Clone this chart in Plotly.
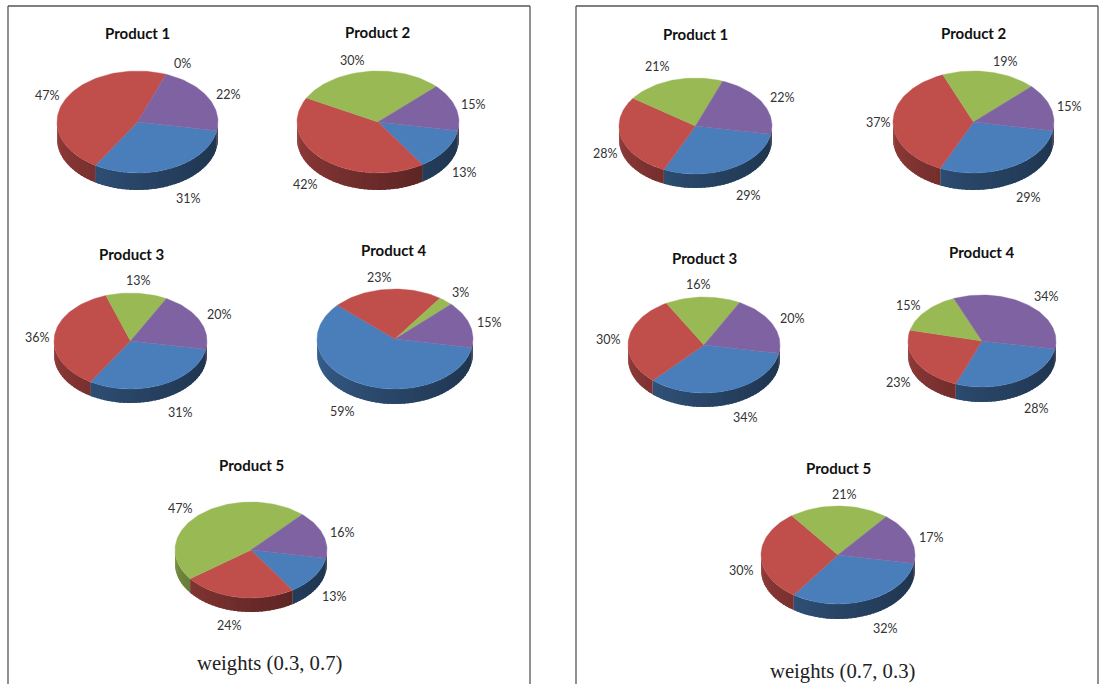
import math
import plotly.graph_objects as go

# Slice shares in percent, in clockwise order: blue, red, green, purple
products = ["Product 1", "Product 2", "Product 3", "Product 4", "Product 5"]
blue_03 = [31, 13, 31, 59, 13]
red_03 = [47, 42, 36, 23, 24]
green_03 = [0, 30, 13, 3, 47]
purple_03 = [22, 15, 20, 15, 16]

blue_07 = [29, 29, 34, 28, 32]
red_07 = [28, 37, 30, 23, 30]
green_07 = [21, 19, 16, 15, 21]
purple_07 = [22, 15, 20, 34, 17]

captions = ["weights (0.3, 0.7)", "weights (0.7, 0.3)"]

# Geometry of each pie: centre x, centre y, x radius, y radius, rim depth
geometry_03 = [
    (137.5, 122, 80.5, 51, 17),
    (378, 122, 81, 51, 17),
    (130.5, 341, 76.5, 48, 14),
    (395, 339, 78, 50, 15),
    (251, 550, 76, 48, 14),
]
geometry_07 = [
    (695.5, 126, 76.5, 48, 14),
    (973.5, 122, 80.5, 51, 17),
    (704, 345, 76, 48, 14),
    (982, 341, 74, 46, 15),
    (838, 555, 77, 49, 15),
]
title_xy_03 = [(137, 32.5), (378, 31.5), (131, 253.5), (394, 249.5), (251, 464.5)]
title_xy_07 = [(695, 33.5), (974, 32.5), (704, 257.5), (982, 251.5), (838, 467.5)]

# Percent label anchors per pie, same slice order as the values
label_xy_03 = [
    [(188, 198), (47, 95), (182, 63), (228, 94)],
    [(464, 172), (305, 184), (352, 60), (473, 104)],
    [(180, 412), (37, 337), (138, 280), (219, 314)],
    [(342, 411), (379, 277), (460, 292), (489, 322)],
    [(334, 596), (229, 625), (180, 508), (342, 532)],
]
label_xy_07 = [
    [(748, 195), (605, 153), (657, 66), (782, 97)],
    [(1028, 197), (878, 122), (1005, 61), (1069, 106)],
    [(745, 417), (608, 339), (698, 284), (792, 318)],
    [(1036, 408), (898, 382), (908, 305), (1046, 296)],
    [(885, 628), (741, 570), (844, 494), (931, 537)],
]
caption_xy = [(269, 663), (842, 671)]
panel_x = [(8, 530), (576, 1098)]

SLICE_COLOURS = [(74, 126, 187), (192, 78, 75), (152, 185, 84), (127, 98, 161)]
START_ANGLE = 10.0  # degrees clockwise from the +x direction
TEXT_FONT = "Lato, 'Open Sans', sans-serif"

fig = go.Figure()


def rgb(colour, factor=1.0):
    r, g, b = (int(round(c * factor)) for c in colour)
    return f"rgb({r},{g},{b})"


def polygon(xs, ys, colour, line_width=0.4):
    fig.add_trace(go.Scatter(
        x=xs, y=ys, mode="lines", fill="toself", fillcolor=colour,
        line=dict(color=colour, width=line_width), hoverinfo="skip", showlegend=False,
    ))


def rim_shade(angle):
    # Darkest at the right-hand side of the rim, lighter toward the left
    t = min(max(angle, 0.0), 180.0) / 180.0
    return 0.42 + 0.36 * t ** 1.5


def rim_strip(cx, cy, rx, ry, depth, a, b, colour):
    n = max(int((b - a) / 0.5), 1)
    angles = [math.radians(a + (b - a) * i / n) for i in range(n + 1)]
    upper_x = [cx + rx * math.cos(t) for t in angles]
    upper_y = [cy + ry * math.sin(t) for t in angles]
    lower_y = [y + depth for y in upper_y]
    polygon(upper_x + upper_x[::-1] + upper_x[:1], upper_y + lower_y[::-1] + upper_y[:1], colour, 0)


def draw_pie(values, geom):
    cx, cy, rx, ry, depth = geom
    total = float(sum(values))
    spans = []
    angle = START_ANGLE
    for v in values:
        sweep = 360.0 * v / total
        spans.append((angle, angle + sweep))
        angle += sweep

    # Rim first; each strip runs under the next one so no seams show through
    for (a0, a1), base in zip(spans, SLICE_COLOURS):
        for offset in (0.0, 360.0):
            lo = max(a0 - offset, 0.0)
            hi = min(a1 - offset, 180.0)
            a = lo
            while a < hi:
                b = min(a + 3.0, hi)
                rim_strip(cx, cy, rx, ry, depth, a, min(b + 2.0, hi),
                          rgb(base, rim_shade((a + b) / 2)))
                a = b

    # Top face
    for (a0, a1), v, base in zip(spans, values, SLICE_COLOURS):
        if v == 0:
            continue
        n = max(int((a1 - a0) / 2), 2)
        angles = [math.radians(a0 + (a1 - a0) * i / n) for i in range(n + 1)]
        xs = [cx] + [cx + rx * math.cos(t) for t in angles] + [cx]
        ys = [cy] + [cy + ry * math.sin(t) for t in angles] + [cy]
        polygon(xs, ys, rgb(base))


def text(x, y, s, size, family=TEXT_FONT, colour="#333333", bold=False):
    fig.add_annotation(
        x=x, y=y, xref="x", yref="y", showarrow=False, xanchor="center", yanchor="middle",
        text=f"<b>{s}</b>" if bold else s, font=dict(family=family, size=size, color=colour),
    )


panels = [
    (blue_03, red_03, green_03, purple_03, geometry_03, title_xy_03, label_xy_03),
    (blue_07, red_07, green_07, purple_07, geometry_07, title_xy_07, label_xy_07),
]
for p, (blue, red, green, purple, geoms, title_xy, label_xy) in enumerate(panels):
    left, right = panel_x[p]
    for x in (left, right):
        fig.add_shape(type="line", x0=x, x1=x, y0=6, y1=684, xref="x", yref="y",
                      line=dict(color="#555555", width=1.3))
    fig.add_shape(type="line", x0=left, x1=right, y0=6, y1=6, xref="x", yref="y",
                  line=dict(color="#555555", width=1.3))
    for i, name in enumerate(products):
        values = [blue[i], red[i], green[i], purple[i]]
        draw_pie(values, geoms[i])
        text(title_xy[i][0], title_xy[i][1], name, 15, colour="#111111", bold=True)
        for v, (lx, ly) in zip(values, label_xy[i]):
            text(lx, ly, f"{v}%", 12.5)
    text(caption_xy[p][0], caption_xy[p][1], captions[p], 20.7,
         family="'Liberation Serif', serif", colour="#222222")

fig.update_layout(
    width=1099, height=684, margin=dict(l=0, r=0, t=0, b=0),
    paper_bgcolor="white", plot_bgcolor="white", showlegend=False,
    xaxis=dict(range=[0, 1099], visible=False, fixedrange=True),
    yaxis=dict(range=[684, 0], visible=False, fixedrange=True),
)
fig.write_html("out.html", config={"displayModeBar": False})
